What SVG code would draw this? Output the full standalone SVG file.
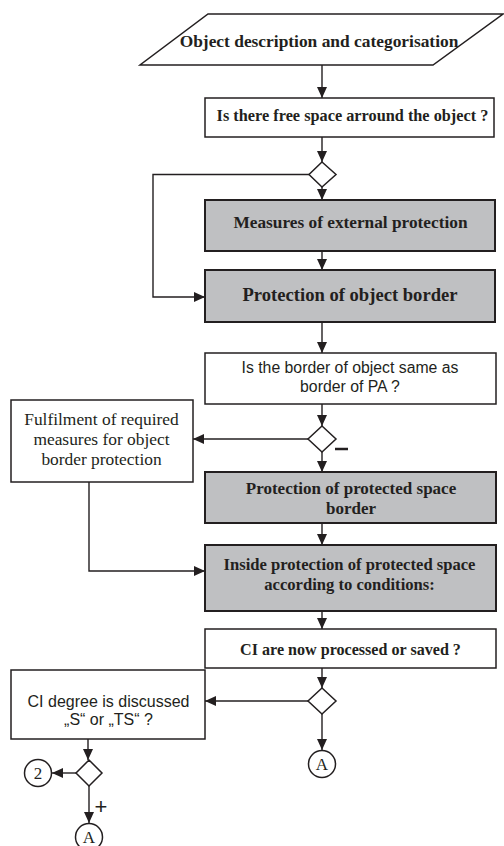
<svg xmlns="http://www.w3.org/2000/svg" width="504" height="846" viewBox="0 0 504 846">
<defs>
<marker id="ah" markerUnits="userSpaceOnUse" markerWidth="11" markerHeight="10" refX="11" refY="5" orient="auto">
<path d="M0,0 L11,5 L0,10 z" fill="#231f20"/>
</marker>
<style>
.box{fill:#fff;stroke:#231f20;stroke-width:1.5}
.gbox{fill:#bfc0c2;stroke:#231f20;stroke-width:2}
.dia{fill:#fff;stroke:#231f20;stroke-width:1.5}
.ln{fill:none;stroke:#231f20;stroke-width:1.4}
.ar{fill:none;stroke:#231f20;stroke-width:1.4;marker-end:url(#ah)}
.bs{font-family:"Liberation Serif","Times New Roman",serif;font-weight:bold;fill:#231f20;text-anchor:middle}
.rs{font-family:"Liberation Serif","Times New Roman",serif;fill:#231f20;text-anchor:middle}
.ss{font-family:"Liberation Sans",Arial,sans-serif;fill:#231f20;text-anchor:middle}
</style>
</defs>
<rect width="504" height="846" fill="#fff"/>
<g id="connectors">
<path class="ar" d="M322,65 V98"/>
<path class="ar" d="M322,137 V162"/>
<path class="ar" d="M322,187 V200"/>
<path class="ar" d="M309,174.5 H153 V297 H205"/>
<path class="ar" d="M322,251 V270"/>
<path class="ar" d="M322,322 V353"/>
<path class="ar" d="M322,404 V426"/>
<path class="ar" d="M308,439 H193"/>
<path class="ar" d="M322,452 V472"/>
<path class="ar" d="M89,482 V571 H205"/>
<path class="ar" d="M322,523 V545"/>
<path class="ar" d="M322,611 V629"/>
<path class="ar" d="M322,668 V688"/>
<path class="ar" d="M308,701 H205"/>
<path class="ar" d="M322,714 V750"/>
<path class="ar" d="M88,739 V760"/>
<path class="ar" d="M76,773 H52"/>
<path class="ar" d="M89,786 V823"/>
</g>
<g id="n1">
<polygon class="box" points="208,14 503,14 433,65 140,65"/>
<text class="bs" x="319" y="47" font-size="17.4">Object description and categorisation</text>
</g>
<g id="n2">
<rect class="box" x="205" y="98" width="289" height="39"/>
<text class="bs" x="352.5" y="121" font-size="16.3">Is there free space arround the object ?</text>
</g>
<g id="d1">
<polygon class="dia" points="322,162 336,174.5 322,187 309,174.5"/>
</g>
<g id="n3">
<rect class="gbox" x="205" y="200" width="290" height="51"/>
<text class="bs" x="350.5" y="228" font-size="17.3">Measures of external protection</text>
</g>
<g id="n4">
<rect class="gbox" x="205" y="270" width="290" height="52"/>
<text class="bs" x="350" y="301" font-size="18.6">Protection of object border</text>
</g>
<g id="n5">
<rect class="box" x="205" y="353" width="291" height="51"/>
<text class="ss" x="350" y="373" font-size="15.8">Is the border of object same as</text>
<text class="ss" x="350" y="392" font-size="15.8">border of PA ?</text>
</g>
<g id="d2">
<polygon class="dia" points="322,426 336,439 322,452 308,439"/>
<path d="M335,449 H348" stroke="#231f20" stroke-width="2.5"/>
</g>
<g id="n6">
<rect class="box" x="11" y="400" width="182" height="82"/>
<text class="rs" x="101.5" y="425" font-size="17.4">Fulfilment of required</text>
<text class="rs" x="101.5" y="445" font-size="17.4">measures for object</text>
<text class="rs" x="101.5" y="465" font-size="17.4">border protection</text>
</g>
<g id="n7">
<rect class="gbox" x="205" y="472" width="291" height="51"/>
<text class="bs" x="351" y="494" font-size="17">Protection of protected space</text>
<text class="bs" x="351" y="514" font-size="17">border</text>
</g>
<g id="n8">
<rect class="gbox" x="205" y="545" width="291" height="66"/>
<text class="bs" x="349.5" y="570" font-size="16.6">Inside protection of protected space</text>
<text class="bs" x="349.5" y="590" font-size="16.6">according to conditions:</text>
</g>
<g id="n9">
<rect class="box" x="205" y="629" width="291" height="39"/>
<text class="bs" x="350.5" y="655" font-size="16.1">CI are now processed or saved ?</text>
</g>
<g id="d3">
<polygon class="dia" points="322,688 336,701 322,714 308,701"/>
</g>
<g id="n10">
<rect class="box" x="11" y="670" width="194" height="69"/>
<text class="ss" x="108.5" y="707" font-size="16">CI degree is discussed</text>
<text class="ss" x="108.5" y="725" font-size="16">„S“ or „TS“ ?</text>
</g>
<g id="cA1">
<circle class="box" cx="322" cy="764" r="13.5"/>
<text class="rs" x="322" y="770" font-size="17">A</text>
</g>
<g id="d4">
<polygon class="dia" points="89,760 102,773 89,786 76,773"/>
<text class="ss" x="101" y="813.5" font-size="22">+</text>
</g>
<g id="c2">
<circle class="box" cx="38" cy="773" r="13.5"/>
<text class="rs" x="38" y="779" font-size="17">2</text>
</g>
<g id="cA2">
<circle class="box" cx="89" cy="837" r="13.5"/>
<text class="rs" x="89" y="843" font-size="17">A</text>
</g>
</svg>
